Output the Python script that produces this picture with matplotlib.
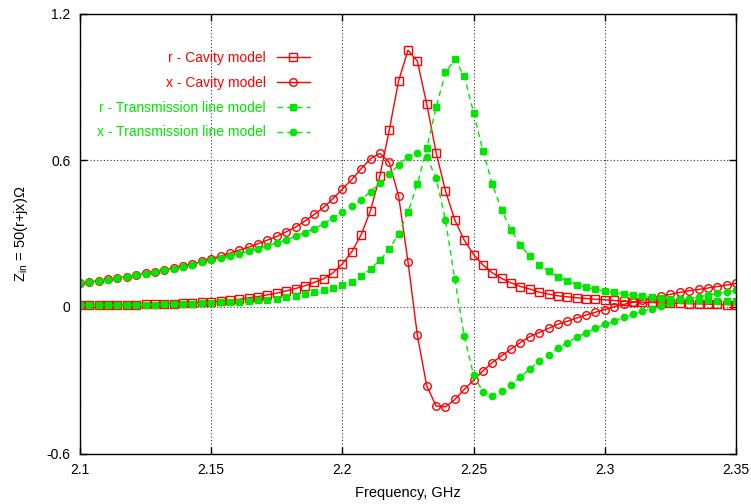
import numpy as np
import matplotlib
matplotlib.use('Agg')
import matplotlib.pyplot as plt

plt.rcParams['font.family'] = ['Liberation Sans', 'DejaVu Sans']
plt.rcParams['mathtext.default'] = 'regular'

# frequency sweep, 71 equally spaced samples
freq = np.linspace(2.1, 2.35, 71)

r_cavity = [0.006, 0.006, 0.007, 0.007, 0.008, 0.008, 0.009, 0.010, 0.011, 0.012, 0.013, 0.014, 0.016,
            0.018, 0.020, 0.023, 0.027, 0.031, 0.037, 0.042, 0.049, 0.056, 0.065, 0.075, 0.086, 0.100, 0.115, 0.139,
            0.176, 0.225, 0.295, 0.394, 0.536, 0.723, 0.925, 1.050, 1.005, 0.829, 0.631, 0.474, 0.355, 0.273, 0.214,
            0.171, 0.139, 0.116, 0.098, 0.083, 0.073,
            0.060, 0.052, 0.045, 0.041, 0.037, 0.034, 0.031, 0.029, 0.026, 0.023, 0.021, 0.019, 0.018, 0.016,
            0.015, 0.014, 0.013, 0.012, 0.011, 0.010, 0.009, 0.008]

x_cavity = [0.096, 0.101, 0.107, 0.112, 0.118, 0.124, 0.130, 0.137, 0.144, 0.151, 0.159, 0.167, 0.176,
            0.186, 0.197, 0.207, 0.220, 0.232, 0.244, 0.258, 0.273, 0.288, 0.307, 0.326, 0.351, 0.378, 0.407, 0.443,
            0.482, 0.521, 0.565, 0.606, 0.628, 0.591, 0.453, 0.184, -0.117, -0.323, -0.406, -0.409, -0.379, -0.338,
            -0.300, -0.262, -0.228, -0.200, -0.172, -0.146, -0.122,
            -0.105, -0.088, -0.071, -0.059, -0.046, -0.034, -0.022, -0.011, 0.000, 0.010, 0.018, 0.027, 0.036,
            0.044, 0.051, 0.059, 0.066, 0.071, 0.077, 0.083, 0.089, 0.096]

r_tline = [0.006, 0.006, 0.006, 0.007, 0.007, 0.008, 0.008, 0.009, 0.009, 0.010, 0.011, 0.012, 0.013,
           0.015, 0.017, 0.018, 0.019, 0.021, 0.023, 0.026, 0.030, 0.034, 0.040, 0.045, 0.052, 0.059, 0.068, 0.078,
           0.088, 0.102, 0.126, 0.154, 0.191, 0.235, 0.300, 0.386, 0.502, 0.648, 0.816, 0.959, 1.012, 0.944, 0.795,
           0.637, 0.502, 0.396, 0.314, 0.252, 0.207,
           0.173, 0.145, 0.123, 0.106, 0.090, 0.081, 0.071, 0.065, 0.059, 0.052, 0.047, 0.043, 0.039, 0.036,
           0.033, 0.031, 0.029, 0.027, 0.026, 0.025, 0.024, 0.023]

x_tline = [0.096, 0.101, 0.106, 0.111, 0.117, 0.123, 0.129, 0.135, 0.142, 0.149, 0.156, 0.164, 0.173,
           0.183, 0.192, 0.200, 0.208, 0.217, 0.227, 0.238, 0.250, 0.262, 0.275, 0.289, 0.304, 0.320, 0.340, 0.364,
           0.387, 0.412, 0.439, 0.471, 0.505, 0.542, 0.580, 0.615, 0.628, 0.611, 0.528, 0.355, 0.112, -0.119,
           -0.279, -0.348, -0.364, -0.344, -0.318, -0.286, -0.255,
           -0.222, -0.195, -0.170, -0.147, -0.125, -0.106, -0.088, -0.072, -0.059, -0.043, -0.031, -0.019, -0.007,
           0.004, 0.015, 0.026, 0.034, 0.041, 0.047, 0.055, 0.061, 0.068]

xticks = [2.1, 2.15, 2.2, 2.25, 2.3, 2.35]
xtick_labels = ['2.1', '2.15', '2.2', '2.25', '2.3', '2.35']
yticks = [-0.6, 0, 0.6, 1.2]
ytick_labels = ['-0.6', '0', '0.6', '1.2']

red = '#ff0000'
green = '#00e600'

fig = plt.figure(figsize=(7.51, 5.04), dpi=100)
ax = fig.add_axes([80 / 751, 1 - 453.5 / 504, 656 / 751, 440 / 504])

ax.plot(freq, r_cavity, color=red, lw=1, marker='s', ms=5.2, mfc='none', mec=red, mew=1,
        label='r - Cavity model')
ax.plot(freq, x_cavity, color=red, lw=1, marker='o', ms=5.5, mfc='none', mec=red, mew=1,
        label='x - Cavity model')
ax.plot(freq, r_tline, color=green, lw=1, ls=(0, (4, 3)), marker='s', ms=4.6, mfc=green, mec=green,
        label='r - Transmission line model')
ax.plot(freq, x_tline, color=green, lw=1, ls=(0, (4, 3)), marker='o', ms=4.6, mfc=green, mec=green,
        label='x - Transmission line model')

ax.set_xlim(2.1, 2.35)
ax.set_ylim(-0.6, 1.2)
ax.set_xticks(xticks)
ax.set_xticklabels(xtick_labels)
ax.set_yticks(yticks)
ax.set_yticklabels(ytick_labels)
ax.tick_params(direction='in', length=5, width=1, top=True, right=True, labelsize=10, pad=7)
ax.grid(True, color='#333333', lw=0.8, ls=(0, (1, 2)))
for s in ax.spines.values():
    s.set_linewidth(1)

ax.set_xlabel('Frequency, GHz', fontsize=10.5, labelpad=6)
ax.set_ylabel(r'Z$_{in}$ = 50(r+jx)Ω', fontsize=10.5, labelpad=12)

leg = ax.legend(loc='upper right', bbox_to_anchor=(310 / 751, 1 - 51 / 504), bbox_transform=fig.transFigure,
                frameon=False, markerfirst=False, labelcolor='linecolor', fontsize=10,
                handlelength=2.4, handletextpad=0.8, labelspacing=0.78, borderpad=0, borderaxespad=0)

fig.savefig('out.png', dpi=100)
